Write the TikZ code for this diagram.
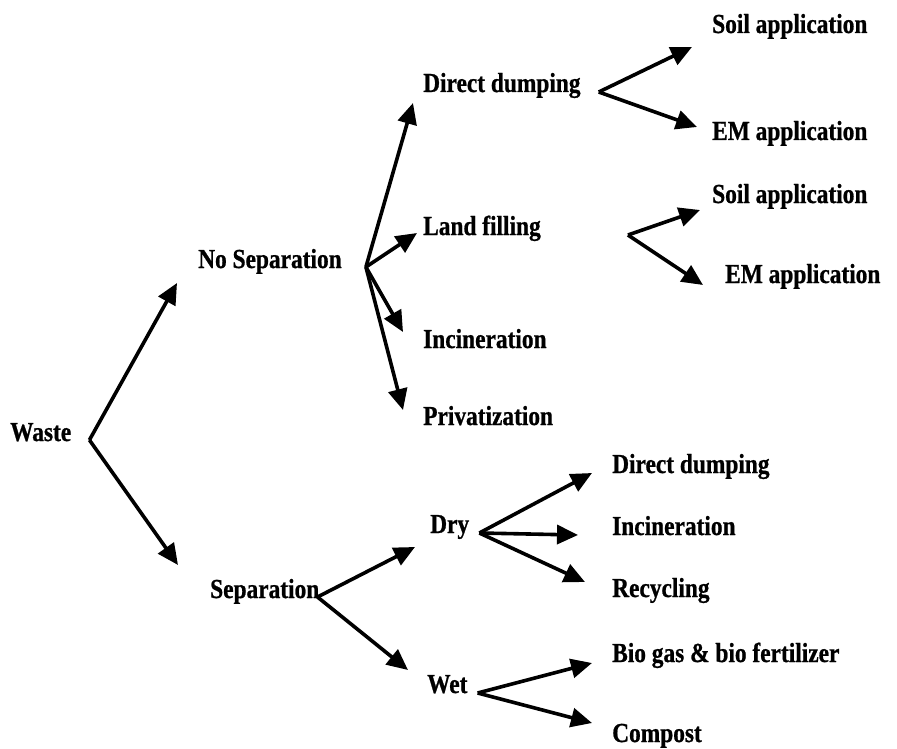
\documentclass[tikz,border=0pt]{standalone}
\usepackage{fontspec}
\setmainfont[FakeStretch=0.85, BoldFeatures={FakeBold=0.8}]{Liberation Serif}
\usetikzlibrary{arrows.meta}

\begin{document}
\begin{tikzpicture}[x=1pt, y=-1pt,
  lbl/.style={anchor=base west, inner sep=0pt, font=\bfseries\fontsize{27.5}{30}\selectfont},
  arr/.style={-{Triangle[length=21pt,width=19pt]}, line width=3.6pt}]
  \useasboundingbox (0,0) rectangle (897,749);

  % left column
  \node[lbl] (waste) at (10,441) {Waste};
  \node[lbl] (nosep) at (198,268) {No Separation};
  \node[lbl] (sep) at (210,598) {Separation};

  % no separation branch
  \node[lbl] (dump) at (423,92) {Direct dumping};
  \node[lbl] (land) at (423,235) {Land filling};
  \node[lbl] (incin) at (423,348) {Incineration};
  \node[lbl] (priv) at (423,425) {Privatization};

  \node[lbl] (soilA) at (712,33) {Soil application};
  \node[lbl] (emA) at (712,140) {EM application};
  \node[lbl] (soilB) at (712,203) {Soil application};
  \node[lbl] (emB) at (725,283) {EM application};

  % separation branch
  \node[lbl] (dry) at (430,533) {Dry};
  \node[lbl] (wet) at (427,693) {Wet};

  \node[lbl] (dump') at (612,473) {Direct dumping};
  \node[lbl] (incin') at (612,535) {Incineration};
  \node[lbl] (recyc) at (612,597) {Recycling};
  \node[lbl] (biogas) at (612,662) {Bio gas \& bio fertilizer};
  \node[lbl] (compost) at (612,742) {Compost};

  % arrows
  \draw[arr] ([xshift=18pt,yshift=1pt]waste.base east) -- ([xshift=-21pt,yshift=-15pt]nosep.base west);
  \draw[arr] ([xshift=18pt,yshift=1pt]waste.base east) -- ([xshift=-32pt,yshift=33pt]sep.base west);

  \draw[arr] ([xshift=24pt,yshift=1pt]nosep.base east) -- ([xshift=-10pt,yshift=-11pt]dump.base west);
  \draw[arr] ([xshift=24pt,yshift=1pt]nosep.base east) -- ([xshift=-6pt,yshift=2pt]land.base west);
  \draw[arr] ([xshift=24pt,yshift=1pt]nosep.base east) -- ([xshift=-20pt,yshift=16pt]incin.base west);
  \draw[arr] ([xshift=24pt,yshift=1pt]nosep.base east) -- ([xshift=-20pt,yshift=15pt]priv.base west);

  \draw[arr] ([xshift=18pt]dump.base east) -- ([xshift=-20pt,yshift=-14pt]soilA.base west);
  \draw[arr] ([xshift=18pt]dump.base east) -- ([xshift=-15pt,yshift=13pt]emA.base west);

  \draw[arr] ([xshift=87pt]land.base east) -- ([xshift=-12pt,yshift=-7pt]soilB.base west);
  \draw[arr] ([xshift=87pt]land.base east) -- ([xshift=-22pt,yshift=-2pt]emB.base west);

  \draw[arr] ([xshift=-2pt,yshift=1pt]sep.base east) -- ([xshift=-15pt,yshift=-14pt]dry.base west);
  \draw[arr] ([xshift=-2pt,yshift=1pt]sep.base east) -- ([xshift=-19pt,yshift=23pt]wet.base west);

  \draw[arr] ([xshift=10pt]dry.base east) -- ([xshift=-20pt]dump'.base west);
  \draw[arr] ([xshift=10pt]dry.base east) -- ([xshift=-34pt]incin'.base west);
  \draw[arr] ([xshift=10pt]dry.base east) -- ([xshift=-27pt,yshift=15pt]recyc.base west);

  \draw[arr] ([xshift=10pt]wet.base east) -- ([xshift=-20pt,yshift=-1pt]biogas.base west);
  \draw[arr] ([xshift=10pt]wet.base east) -- ([xshift=-20pt,yshift=19pt]compost.base west);
\end{tikzpicture}
\end{document}
